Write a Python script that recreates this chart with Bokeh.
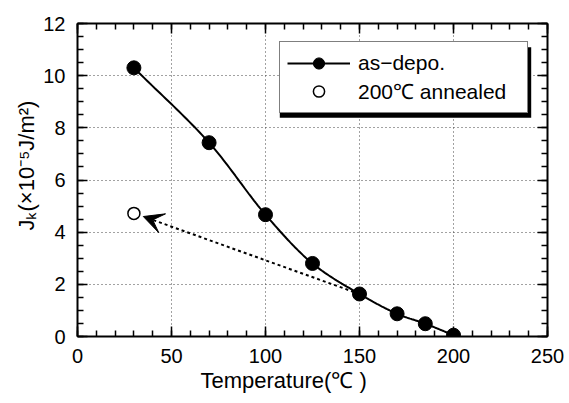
import numpy as np
from bokeh.plotting import figure
from bokeh.models import (LinearAxis, SingleIntervalTicker, Range1d, Legend, LegendItem,
                          BoxAnnotation, Arrow, VeeHead, Title)
from bokeh.embed import file_html
from bokeh.resources import INLINE

# ---- data ----
temp_asdepo = [30, 70, 100, 125, 150, 170, 185, 200]
jk_asdepo = [10.3, 7.43, 4.67, 2.8, 1.63, 0.87, 0.49, 0.05]
temp_annealed = [30]
jk_annealed = [4.72]
arrow_from = [150, 1.63]
arrow_to = [35, 4.6]
legend_labels = ["as\u2212depo.", "200\u2103 annealed"]
x_label = "Temperature(\u2103 )"
y_label = "J\u2096(\u00d710\u207b\u2075J/m\u00b2)"

FONT = "Liberation Sans"
W, H = 569, 403
FL, FR, FT, FB = 77, 547, 23, 336      # frame edges (canvas px)
XMIN, XMAX, YMIN, YMAX = 0, 250, 0, 12
SX = (FR - FL) / (XMAX - XMIN)
SY = (FB - FT) / (YMAX - YMIN)


def px2x(px):
    return (px - FL) / SX + XMIN


def px2y(py):
    return (FB - py) / SY + YMIN


def centripetal_spline(xs, ys, n=30):
    P = np.column_stack([np.asarray(xs, float) * SX, np.asarray(ys, float) * SY])
    P = np.vstack([2 * P[0] - P[1], P, 2 * P[-1] - P[-2]])
    out = []
    for i in range(1, len(P) - 2):
        P0, P1, P2, P3 = P[i - 1], P[i], P[i + 1], P[i + 2]
        t0 = 0.0
        t1 = t0 + np.linalg.norm(P1 - P0) ** 0.5
        t2 = t1 + np.linalg.norm(P2 - P1) ** 0.5
        t3 = t2 + np.linalg.norm(P3 - P2) ** 0.5
        t = np.linspace(t1, t2, n)[:, None]
        A1 = (t1 - t) / (t1 - t0) * P0 + (t - t0) / (t1 - t0) * P1
        A2 = (t2 - t) / (t2 - t1) * P1 + (t - t1) / (t2 - t1) * P2
        A3 = (t3 - t) / (t3 - t2) * P2 + (t - t2) / (t3 - t2) * P3
        B1 = (t2 - t) / (t2 - t0) * A1 + (t - t0) / (t2 - t0) * A2
        B2 = (t3 - t) / (t3 - t1) * A2 + (t - t1) / (t3 - t1) * A3
        C = (t2 - t) / (t2 - t1) * B1 + (t - t1) / (t2 - t1) * B2
        out.append(C if i == 1 else C[1:])
    C = np.vstack(out)
    return C[:, 0] / SX, C[:, 1] / SY


p = figure(width=W, height=H, output_backend="svg", toolbar_location=None,
           x_range=Range1d(XMIN, XMAX), y_range=Range1d(YMIN, YMAX),
           min_border_left=FL, min_border_right=W - FR,
           min_border_top=FT, min_border_bottom=H - FB)
p.outline_line_color = None
p.background_fill_color = "white"
p.border_fill_color = "white"

xt = SingleIntervalTicker(interval=50, num_minor_ticks=5)
yt = SingleIntervalTicker(interval=2, num_minor_ticks=4)


def style_axis(ax, labels=True):
    ax.axis_line_width = 2
    ax.axis_line_color = "black"
    ax.major_tick_in = 10
    ax.major_tick_out = 0
    ax.minor_tick_in = 6
    ax.minor_tick_out = 0
    ax.major_tick_line_width = 1.5
    ax.minor_tick_line_width = 1.5
    ax.major_tick_line_color = "black"
    ax.minor_tick_line_color = "black"
    if labels:
        ax.major_label_text_font = FONT
        ax.major_label_text_font_size = "20px"
        ax.major_label_text_color = "black"
    else:
        ax.major_label_text_font_size = "0px"
        ax.major_label_text_color = None
        ax.major_label_standoff = 0


p.xaxis.ticker = xt
p.yaxis.ticker = yt
style_axis(p.xaxis[0])
style_axis(p.yaxis[0])
p.xaxis.major_label_standoff = 12
p.yaxis.major_label_standoff = 12

top = LinearAxis(ticker=xt)
right = LinearAxis(ticker=yt)
style_axis(top, False)
style_axis(right, False)
p.add_layout(top, "above")
p.add_layout(right, "right")

p.xgrid.ticker = xt
p.ygrid.ticker = yt
for g in (p.xgrid[0], p.ygrid[0]):
    g.grid_line_color = "#444444"
    g.grid_line_dash = "1 3"
    g.grid_line_width = 1

# axis titles (placed as titles in the side panels)
p.add_layout(Title(text=x_label, align="left", offset=123, standoff=0,
                   text_font=FONT, text_font_size="22px", text_font_style="normal",
                   text_color="black"), "below")
p.add_layout(Title(text=y_label, align="left", offset=106, standoff=4,
                   text_font=FONT, text_font_size="22px", text_font_style="normal",
                   text_color="black"), "left")

# dotted arrow
p.add_layout(Arrow(x_start=arrow_from[0], y_start=arrow_from[1],
                   x_end=arrow_to[0], y_end=arrow_to[1],
                   line_color="black", line_width=2, line_dash="3 3",
                   end=VeeHead(size=20, fill_color="black", line_color="black", line_width=1)))

sx_, sy_ = centripetal_spline(temp_asdepo, jk_asdepo)
r_line = p.line(sx_, sy_, line_color="black", line_width=2)
r_fill = p.scatter(temp_asdepo, jk_asdepo, size=14, marker="circle",
                   fill_color="black", line_color="black")
r_open = p.scatter(temp_annealed, jk_annealed, size=12, marker="circle",
                   fill_color="white", line_color="black", line_width=1.5)

# legend shadow + legend
box_l, box_t, box_r, box_b = 279.3, 42.7, 526.7, 113.3
pad, gw, gh, stand = 7, 63, 28, 8
lw = int(round((box_r - box_l) - 2 * pad - gw - stand))
p.add_layout(BoxAnnotation(left=px2x(box_l), right=px2x(box_r + 4),
                           top=px2y(box_t + 4), bottom=px2y(box_b + 4),
                           fill_color="black", fill_alpha=1, line_color=None,
                           level="overlay"))
legend = Legend(items=[LegendItem(label=legend_labels[0], renderers=[r_line, r_fill]),
                       LegendItem(label=legend_labels[1], renderers=[r_open])],
                location=(int(round(box_l - FL)), int(round(FB - box_b))),
                padding=pad, margin=0, spacing=0,
                glyph_width=gw, glyph_height=gh, label_height=gh, label_width=lw,
                label_standoff=stand, label_text_font=FONT, label_text_font_size="21px",
                label_text_color="black", border_line_color="black", border_line_width=1.5,
                background_fill_color="white", background_fill_alpha=1.0)
legend.level = "overlay"
p.add_layout(legend, "center")

open("out.html", "w").write(file_html(p, INLINE))
